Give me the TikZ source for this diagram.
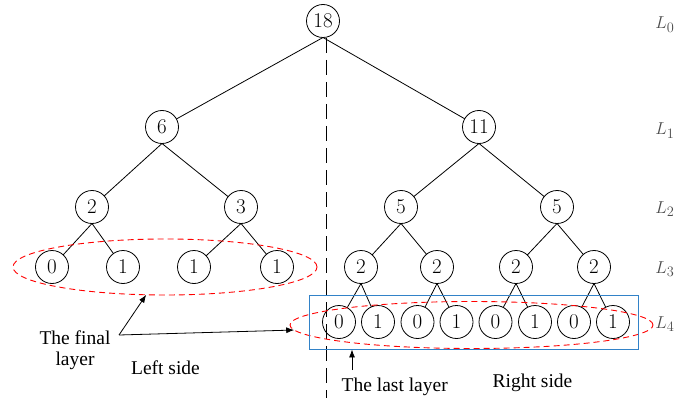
\documentclass[tikz,border=0pt]{standalone}
\usepackage{fontspec}
\newfontfamily\timesfont{Liberation Serif}
\usepackage{tikz}
\usetikzlibrary{positioning}
\usetikzlibrary{shapes.geometric}
\usetikzlibrary{arrows.meta}
\definecolor{boxblue}{RGB}{50,130,200}
\tikzset{
	tnode/.style={circle, draw, minimum size=33pt, inner sep=0pt, outer sep=0pt, font=\fontsize{21}{24}\selectfont},
	lvl/.style={anchor=base west, inner sep=0pt, text=black!70, font=\fontsize{19}{22}\selectfont},
	caption/.style={inner sep=0pt, align=center, font=\timesfont\fontsize{19.5}{21}\selectfont},
	ring/.style={ellipse, draw=red, dash pattern=on 6pt off 4pt, line width=0.9pt, inner sep=0pt, outer sep=0pt},
	pointer/.style={-{Latex[length=8pt,width=6pt]}},
}

\begin{document}
\begin{tikzpicture}[x=1pt, y=-1pt, line width=0.8pt]
			\useasboundingbox (0,0) rectangle (693,401);
			% tree
			\node at (323,21) (r) [tnode] {18};
			\node at (162,127) (r0) [tnode] {6};
			\node at (479,127) (r1) [tnode] {11};
			\node at (92,207) (r00) [tnode] {2};
			\node at (241,207) (r01) [tnode] {3};
			\node at (401,207) (r10) [tnode] {5};
			\node at (557,207) (r11) [tnode] {5};
			\node at (52,267) (r000) [tnode] {0};
			\node at (123,267) (r001) [tnode] {1};
			\node at (194,267) (r010) [tnode] {1};
			\node at (277,267) (r011) [tnode] {1};
			\node at (361,267) (r100) [tnode] {2};
			\node at (437,267) (r101) [tnode] {2};
			\node at (516,267) (r110) [tnode] {2};
			\node at (594,267) (r111) [tnode] {2};
			\node at (339,322) (r1000) [tnode] {0};
			\node at (378,322) (r1001) [tnode] {1};
			\node at (417.5,322) (r1010) [tnode] {0};
			\node at (456.5,322) (r1011) [tnode] {1};
			\node at (495.5,322) (r1100) [tnode] {0};
			\node at (535,322) (r1101) [tnode] {1};
			\node at (574,322) (r1110) [tnode] {0};
			\node at (613,322) (r1111) [tnode] {1};
			\draw (r.south) -- (r0); \draw (r.south) -- (r1);
			\draw (r0.south) -- (r00); \draw (r0.south) -- (r01); \draw (r1.south) -- (r10); \draw (r1.south) -- (r11);
			\draw (r00.south) -- (r000); \draw (r00.south) -- (r001); \draw (r01.south) -- (r010); \draw (r01.south) -- (r011);
			\draw (r10.south) -- (r100); \draw (r10.south) -- (r101); \draw (r11.south) -- (r110); \draw (r11.south) -- (r111);
			\draw (r100.south) -- (r1000); \draw (r100.south) -- (r1001); \draw (r101.south) -- (r1010); \draw (r101.south) -- (r1011);
			\draw (r110.south) -- (r1100); \draw (r110.south) -- (r1101); \draw (r111.south) -- (r1110); \draw (r111.south) -- (r1111);
			% split line
			\coordinate (cuttop) at (326,38); \coordinate (cutbot) at (326,398);
			\draw [dash pattern=on 15pt off 7pt] (cuttop) -- (cutbot);
			% layers
			\node at (655,29) [lvl] {$L_0$};
			\node at (655,135) [lvl] {$L_1$};
			\node at (655,213) [lvl] {$L_2$};
			\node at (655,273) [lvl] {$L_3$};
			\node at (655,328) [lvl] {$L_4$};
			% marks
			\node at (165,267) (finalL) [ring, minimum width=304pt, minimum height=56pt] {};
			\node at (471.5,325) (finalR) [ring, minimum width=363pt, minimum height=47pt] {};
			\node at (473.5,322) (lastbox) [draw=boxblue, line width=0.9pt, minimum width=329pt, minimum height=54pt, inner sep=0pt] {};
			\coordinate (fork) at (119,335);
			\draw [pointer] (fork) -- (finalL); \draw [pointer] (fork) -- (finalR);
			\coordinate (lastfoot) at (352,370);
			\draw [pointer] (lastfoot) -- (lastfoot |- lastbox.south);
			\node at (75,350) (finaltext) [caption] {The final\\layer};
			\node at (165.5,374.3) (lefttext) [caption, anchor=base] {Left side};
			\node at (394.7,391) (lasttext) [caption, anchor=base] {The last layer};
			\node at (532.5,387) (righttext) [caption, anchor=base] {Right side};
\end{tikzpicture}
\end{document}
